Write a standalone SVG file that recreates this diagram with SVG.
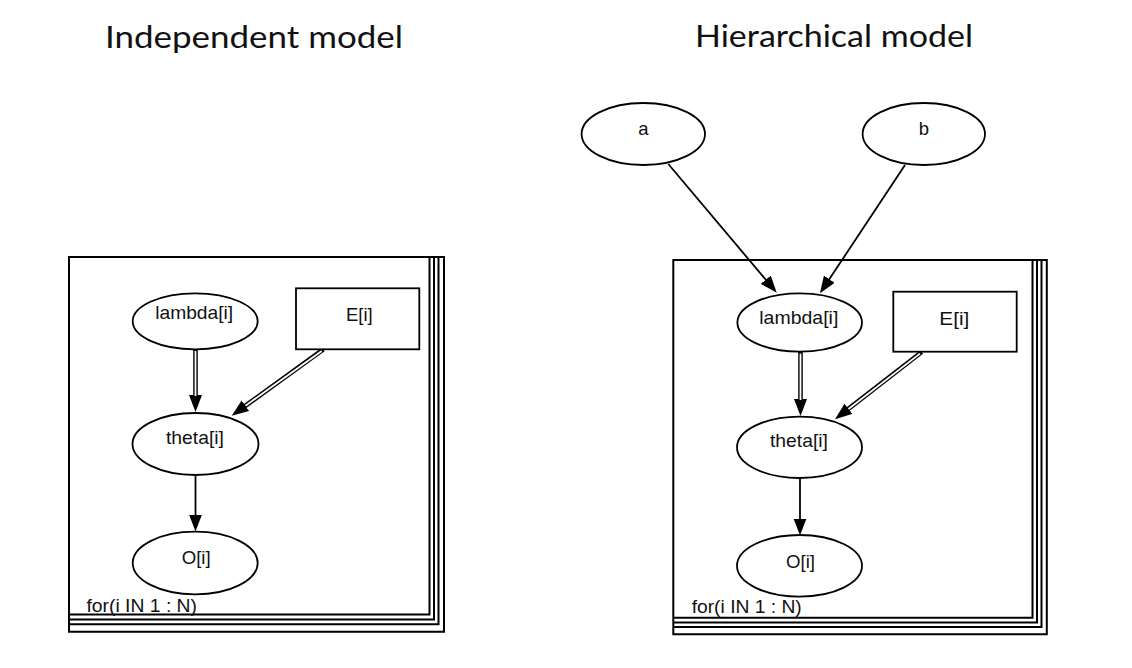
<svg xmlns="http://www.w3.org/2000/svg" width="1132" height="668" viewBox="0 0 1132 668">
<style>
.plate{fill:none;stroke:#000;stroke-width:2}
.node{fill:#fff;stroke:#000;stroke-width:1.8}
.lbl{font-family:"Liberation Sans",Arial,sans-serif;font-size:18.5px;fill:#111;text-anchor:middle}
.for{font-family:"Liberation Sans",Arial,sans-serif;font-size:18.5px;fill:#111}
.title{font-family:Lato,"Open Sans",sans-serif;font-size:30px;fill:#111}
.st{fill:none;stroke:#000;stroke-width:1.8;marker-end:url(#ah)}
.db{fill:none;stroke:#000;stroke-width:4.6;marker-end:url(#ah)}
.dw{fill:none;stroke:#fff;stroke-width:1.8}
</style>
<defs>
<marker id="ah" markerUnits="userSpaceOnUse" markerWidth="18" markerHeight="14" refX="5" refY="6.5" orient="auto" viewBox="0 0 18 14">
<path d="M0,0 L17,6.5 L0,13 z" fill="#000"/>
</marker>
</defs>
<rect width="1132" height="668" fill="#fff"/>
<text class="title" x="105" y="48" textLength="298" lengthAdjust="spacingAndGlyphs">Independent model</text>
<text class="title" x="695" y="47" textLength="278" lengthAdjust="spacingAndGlyphs">Hierarchical model</text>

<g id="plate-left">
<path class="plate" d="M69,257 H444 V631.7 H69 Z"/>
<path class="plate" d="M69,257 H438.5 V624.3 H69"/>
<path class="plate" d="M69,257 H434 V619.5 H69"/>
<path class="plate" d="M69,257 H429.5 V614.5 H69"/>
<text class="for" x="86.5" y="611.5" textLength="110.5" lengthAdjust="spacingAndGlyphs">for(i IN 1 : N)</text>
</g>
<g id="plate-right">
<path class="plate" d="M673.3,260 H1046.8 V634.3 H673.3 Z"/>
<path class="plate" d="M673.3,260 H1041.5 V627 H673.3"/>
<path class="plate" d="M673.3,260 H1037 V622.5 H673.3"/>
<path class="plate" d="M673.3,260 H1032.5 V617.7 H673.3"/>
<text class="for" x="691.7" y="612.5" textLength="110" lengthAdjust="spacingAndGlyphs">for(i IN 1 : N)</text>
</g>

<g id="connectors">
<path class="db" d="M195.5,349.3 V400"/>
<path class="dw" d="M195.5,351 V396"/>
<path class="db" d="M323.3,349.3 L241.4,408.7"/>
<path class="dw" d="M321.7,351 L245.5,405.7"/>
<path class="st" d="M195.5,475 V519.5"/>
<path class="st" d="M668.3,164 L769,283.5"/>
<path class="st" d="M905,165 L826.6,283.3"/>
<path class="db" d="M800.5,352 V404"/>
<path class="dw" d="M800.5,353.6 V400"/>
<path class="db" d="M921.7,352 L844.5,411.9"/>
<path class="dw" d="M920,353.6 L848.5,409"/>
<path class="st" d="M800,478 V523.5"/>
</g>

<g id="lambda-left">
<ellipse class="node" cx="195.2" cy="321.3" rx="62.5" ry="28"/>
<text class="lbl" x="194.2" y="319" textLength="78" lengthAdjust="spacingAndGlyphs">lambda[i]</text>
</g>
<g id="E-left">
<rect class="node" x="296" y="288.3" width="123.3" height="61"/>
<text class="lbl" x="359.3" y="321" textLength="26.7" lengthAdjust="spacingAndGlyphs">E[i]</text>
</g>
<g id="theta-left">
<ellipse class="node" cx="195.5" cy="444" rx="63" ry="31"/>
<text class="lbl" x="195" y="443.5" textLength="58" lengthAdjust="spacingAndGlyphs">theta[i]</text>
</g>
<g id="O-left">
<ellipse class="node" cx="195.2" cy="563" rx="62.5" ry="31.3"/>
<text class="lbl" x="196.2" y="563.5" textLength="29" lengthAdjust="spacingAndGlyphs">O[i]</text>
</g>

<g id="a">
<ellipse class="node" cx="643.3" cy="134" rx="61.7" ry="31"/>
<text class="lbl" x="643.3" y="135">a</text>
</g>
<g id="b">
<ellipse class="node" cx="923.8" cy="134" rx="61.2" ry="31"/>
<text class="lbl" x="924" y="135">b</text>
</g>
<g id="lambda-right">
<ellipse class="node" cx="799.7" cy="322.5" rx="62.3" ry="29.2"/>
<text class="lbl" x="798.8" y="324" textLength="79" lengthAdjust="spacingAndGlyphs">lambda[i]</text>
</g>
<g id="E-right">
<rect class="node" x="893.3" y="291.7" width="123.4" height="60"/>
<text class="lbl" x="954.3" y="324.5" textLength="30" lengthAdjust="spacingAndGlyphs">E[i]</text>
</g>
<g id="theta-right">
<ellipse class="node" cx="799.5" cy="447.3" rx="62.5" ry="30.7"/>
<text class="lbl" x="799" y="447" textLength="58" lengthAdjust="spacingAndGlyphs">theta[i]</text>
</g>
<g id="O-right">
<ellipse class="node" cx="799.5" cy="565.8" rx="62.5" ry="30.8"/>
<text class="lbl" x="800.5" y="567.5" textLength="29" lengthAdjust="spacingAndGlyphs">O[i]</text>
</g>
</svg>
